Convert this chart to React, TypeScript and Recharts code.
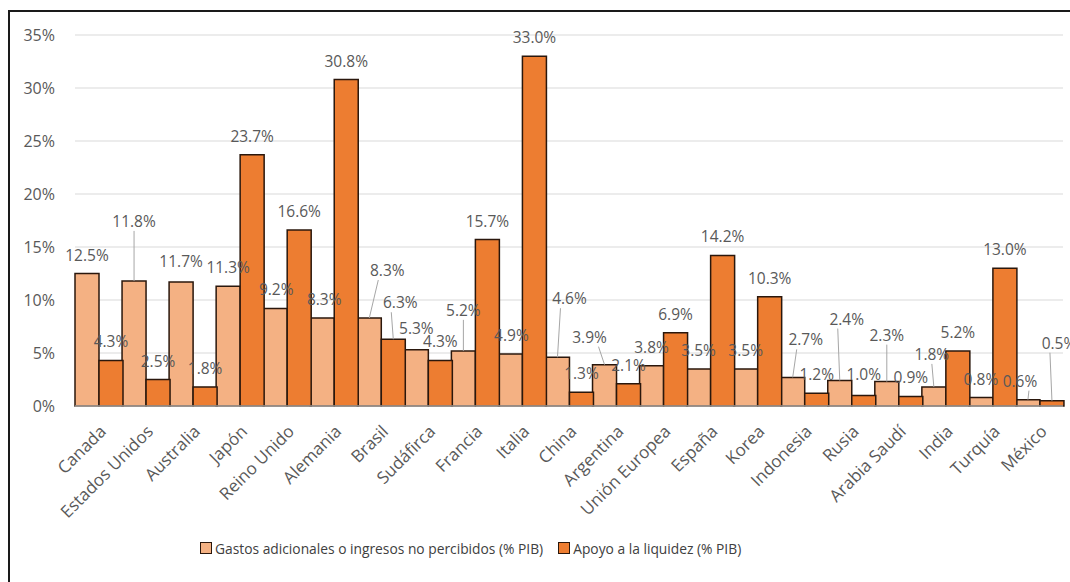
import React from 'react';
import { BarChart, Bar, XAxis, YAxis, CartesianGrid, Legend, LabelList } from 'recharts';

const countries = [
  'Canada', 'Estados Unidos', 'Australia', 'Japón', 'Reino Unido', 'Alemania', 'Brasil',
  'Sudáfirca', 'Francia', 'Italia', 'China', 'Argentina', 'Unión Europea', 'España', 'Korea',
  'Indonesia', 'Rusia', 'Arabia Saudí', 'India', 'Turquía', 'México',
];
const gastos = [12.5, 11.8, 11.7, 11.3, 9.2, 8.3, 8.3, 5.3, 5.2, 4.9, 4.6, 3.9, 3.8, 3.5, 3.5, 2.7, 2.4, 2.3, 1.8, 0.8, 0.6];
const apoyo = [4.3, 2.5, 1.8, 23.7, 16.6, 30.8, 6.3, 4.3, 15.7, 33.0, 1.3, 2.1, 6.9, 14.2, 10.3, 1.2, 1.0, 0.9, 5.2, 13.0, 0.5];
const yTicks = [0, 5, 10, 15, 20, 25, 30, 35];
const seriesNames = ['Gastos adicionales o ingresos no percibidos (% PIB)', 'Apoyo a la liquidez (% PIB)'];

// label displacement (dx, dy) in px relative to default placement
const gastosLabelShift: [number, number][] = [
  [0, 0], [0, -41], [0, -2], [0, 0], [1, 0], [2, 0], [18, -29], [0, -3], [0, -22], [1, 0],
  [12, -40], [-15, -9], [0, 0], [0, 0], [0, 0], [13, -19], [7, -43], [0, -28], [-2, -14], [0, 0], [-8, 0],
];
const apoyoLabelShift: [number, number][] = [
  [0, 0], [0, 0], [0, 0], [0, 0], [0, 0], [0, 0], [7, -18], [0, 0], [0, 0], [0, 0],
  [0, 0], [0, 0], [0, 0], [0, 0], [0, 0], [0, 0], [0, -2], [0, 0], [0, 0], [0, 0], [7, -39],
];

const data = countries.map((c, i) => ({ country: c, gastos: gastos[i], apoyo: apoyo[i] }));

const FONT = '"Open Sans", "Noto Sans", sans-serif';
const LIGHT = '#F4B183';
const ORANGE = '#ED7D31';
const EDGE = '#2a170c';
const TEXT = '#595959';

const makeLabel = (shifts: [number, number][]) => (props: any) => {
  const { x, y, width, value, index } = props;
  const cx = Number(x) + Number(width) / 2;
  const top = Number(y);
  const [dx, dy] = shifts[index] || [0, 0];
  const lx = cx + dx;
  const ly = top - 19 + dy;
  const leader = Math.abs(dx) > 6 || dy < -8;
  const x1 = dx > 6 ? lx - 9 : dx < -6 ? lx + 9 : lx;
  return (
    <g>
      {leader && <line x1={x1} y1={ly + 10} x2={cx} y2={top} stroke="#a6a6a6" strokeWidth={1} />}
      <text x={lx} y={ly} textAnchor="middle" dominantBaseline="central" fill={TEXT} fontSize={15.5} fontFamily={FONT}>
        {Number(value).toFixed(1)}%
      </text>
    </g>
  );
};

const XTick = (props: any) => {
  const { x, y, payload } = props;
  return (
    <g transform={`translate(${x + 4},${y + 14})`}>
      <text x={0} y={0} textAnchor="end" dominantBaseline="central" transform="rotate(-45)" fill={TEXT} fontSize={17} fontFamily={FONT}>
        {payload.value}
      </text>
    </g>
  );
};

const LegendContent = () => (
  <div style={{ display: 'flex', alignItems: 'center', paddingLeft: 190, height: 20, fontFamily: FONT, fontSize: 13.8, color: '#404040' }}>
    {seriesNames.map((n, i) => (
      <div key={n} style={{ display: 'flex', alignItems: 'center', marginRight: 15 }}>
        <span style={{ display: 'inline-block', width: 10, height: 10, background: i === 0 ? LIGHT : ORANGE, border: `1px solid ${EDGE}`, marginRight: 3 }} />
        <span>{n}</span>
      </div>
    ))}
  </div>
);

export default function App() {
  return (
    <div style={{ position: 'absolute', left: 8, top: 10, width: 1060, height: 570, borderTop: '2px solid #1a1a1a', borderLeft: '2px solid #1a1a1a', background: '#fff' }}>
      <BarChart width={1060} height={570} data={data} margin={{ top: 23, right: 7, left: 0, bottom: 24 }} barCategoryGap={0} barGap={0}>
        <CartesianGrid vertical={false} stroke="#d9d9d9" />
        <XAxis dataKey="country" interval={0} height={132} tick={<XTick />} tickLine={false} axisLine={{ stroke: '#d9d9d9' }} />
        <YAxis width={65} domain={[0, 35]} ticks={yTicks} tickFormatter={(v: number) => `${v}%`} tickLine={false} axisLine={false} tickSize={0} tickMargin={20} tick={{ fill: TEXT, fontSize: 16, fontFamily: FONT }} />
        <Legend verticalAlign="bottom" content={<LegendContent />} />
        <Bar dataKey="gastos" name={seriesNames[0]} fill={LIGHT} stroke={EDGE} strokeWidth={1.5} isAnimationActive={false}>
          <LabelList dataKey="gastos" content={makeLabel(gastosLabelShift)} />
        </Bar>
        <Bar dataKey="apoyo" name={seriesNames[1]} fill={ORANGE} stroke={EDGE} strokeWidth={1.5} isAnimationActive={false}>
          <LabelList dataKey="apoyo" content={makeLabel(apoyoLabelShift)} />
        </Bar>
      </BarChart>
    </div>
  );
}
